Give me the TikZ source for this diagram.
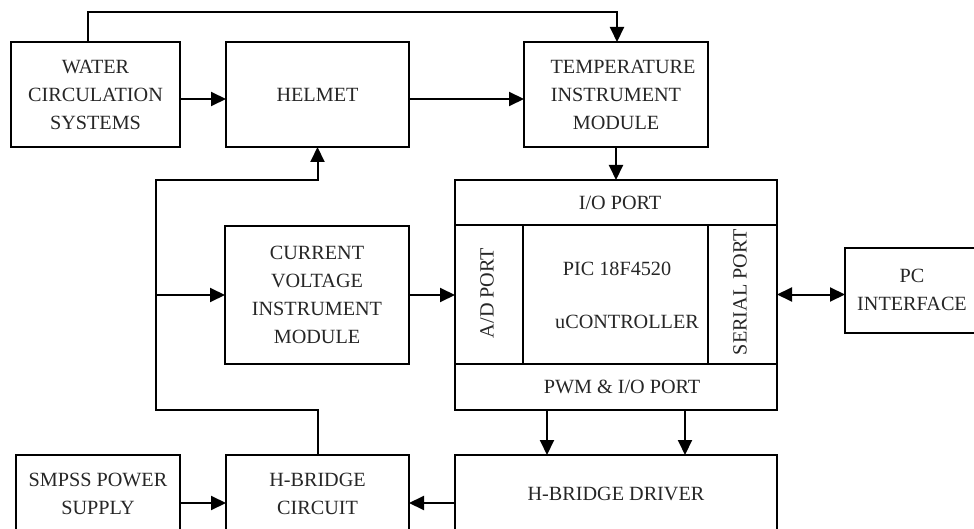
\documentclass[tikz,border=0pt]{standalone}
\usepackage{fontspec}
\setmainfont{Liberation Serif}
\usetikzlibrary{arrows.meta}
\begin{document}
\begin{tikzpicture}[x=1pt,y=-1pt,
  box/.style={draw, line width=1.6pt, rectangle, inner sep=0pt, outer sep=0pt, align=center,
    font=\fontsize{20.2}{28}\selectfont, text=black!85},
  lbl/.style={inner sep=0pt, align=center, font=\fontsize{20.2}{28}\selectfont, text=black!85},
  conn/.style={line width=2pt},
  arr/.style={conn, -{Triangle[length=15pt,width=14pt]}},
  darr/.style={conn, {Triangle[length=15pt,width=14pt]}-{Triangle[length=15pt,width=14pt]}}]
\useasboundingbox (0,0) rectangle (974,529);
\clip (0,0) rectangle (974,529);
% boxes
\node[box, minimum width=169pt, minimum height=105pt] (water) at (95.5,94.5) {WATER\\CIRCULATION\\SYSTEMS};
\node[box, minimum width=183pt, minimum height=105pt] (helmet) at (317.5,94.5) {HELMET};
\node[box, minimum width=184pt, minimum height=105pt] (temp) at (616,94.5) {\hspace*{14pt}TEMPERATURE\\INSTRUMENT\\MODULE};
\node[box, minimum width=184pt, minimum height=138pt] (current) at (317,295) {CURRENT\\VOLTAGE\\INSTRUMENT\\MODULE};
% controller
\node[box, minimum width=322pt, minimum height=230pt] (ctrl) at (616,295) {};
\node[box, minimum width=322pt, minimum height=45pt] (io) at (616,202.5) {\hspace*{8pt}I/O PORT};
\node[box, minimum width=322pt, minimum height=46pt] (pwm) at (616,387) {\hspace*{12pt}PWM \& I/O PORT};
\node[box, minimum width=68pt, minimum height=139pt] (ad) at (489,294.5) {};
\node[box, minimum width=69pt, minimum height=139pt] (serial) at (742.5,294.5) {};
\node[lbl, rotate=90] (adt) at (487,293) {A/D PORT};
\node[lbl, rotate=90] (sert) at (740,292) {SERIAL PORT};
\node[lbl] (pic) at (617,269) {PIC 18F4520};
\node[lbl] (uc) at (627,322) {uCONTROLLER};
% PC interface
\node[box, minimum width=165pt, minimum height=85pt] (pc) at (927.5,290.5) {};
\node[lbl] (pct) at (912,290) {PC\\INTERFACE};
% bottom row
\node[box, minimum width=164pt, minimum height=78pt] (smpss) at (98,494) {SMPSS POWER\\SUPPLY};
\node[box, minimum width=183pt, minimum height=78pt] (hbc) at (317.5,494) {H-BRIDGE\\CIRCUIT};
\node[box, minimum width=322pt, minimum height=78pt] (hbd) at (616,494) {H-BRIDGE DRIVER};
% coordinates
\coordinate (topL) at (88,12);
\coordinate (topR) at (617,12);
\coordinate (busTop) at (156,180);
\coordinate (busBot) at (156,410);
% connectors
\draw[arr] ([yshift=-4.5pt]water.east) -- ([yshift=-4.5pt]helmet.west);
\draw[arr] ([yshift=-4.5pt]helmet.east) -- ([yshift=-4.5pt]temp.west);
\draw[arr] (water.north -| topL) -- (topL) -- (topR) -- (temp.north -| topR);
\draw[arr] (temp.south) -- (io.north);
\draw[arr] (current.east) -- (current.east -| ad.west);
\draw[darr] (serial.east) -- (serial.east -| pc.west);
\draw[arr] ([xshift=-69pt]pwm.south) -- ([xshift=-69pt]hbd.north);
\draw[arr] ([xshift=69pt]pwm.south) -- ([xshift=69pt]hbd.north);
\draw[arr] ([yshift=-9pt]smpss.east) -- ([yshift=-9pt]hbc.west);
\draw[arr] ([yshift=-9pt]hbd.west) -- ([yshift=-9pt]hbc.east);
\draw[arr] (hbc.north) -- (hbc.north |- busBot) -- (busBot) -- (busTop) -- (busTop -| helmet.south) -- (helmet.south);
\draw[arr] (busTop |- current.west) -- (current.west);
\end{tikzpicture}
\end{document}
